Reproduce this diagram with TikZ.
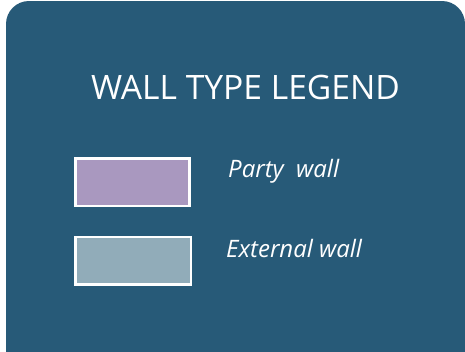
\documentclass[tikz,border=0pt]{standalone}
\usepackage{fontspec}
\setmainfont{Open Sans}
\definecolor{panelblue}{HTML}{275A78}
\definecolor{partyfill}{HTML}{A998BF}
\definecolor{extfill}{HTML}{91ACB9}
\tikzset{
  swatch/.style={draw=white, line width=2.5pt},
  title/.style={text=white, font=\fontsize{33.6}{40}\selectfont, inner sep=0pt, anchor=base west},
  label/.style={text=white, font=\fontsize{24}{28}\selectfont\itshape, inner sep=0pt, anchor=base west}
}
\begin{document}
\begin{tikzpicture}[x=1pt,y=-1pt]
\useasboundingbox (0,0) rectangle (465,351);
\fill[white] (0,0) rectangle (465,351);
\begin{scope}
\clip (0,0) rectangle (465,351);
\fill[panelblue, rounded corners=23pt] (6,1) rectangle (465,400);
\end{scope}
\node[title] (t) at (91,99.3) {WALL TYPE LEGEND};
\draw[swatch, fill=partyfill] (75.3,158.6) rectangle (189.4,206);
\draw[swatch, fill=extfill] (75.3,237) rectangle (191,284.4);
\node[label] (p) at (228,177.3) {Party\ \ wall};
\node[label] (e) at (226,257.3) {External wall};
\end{tikzpicture}
\end{document}
